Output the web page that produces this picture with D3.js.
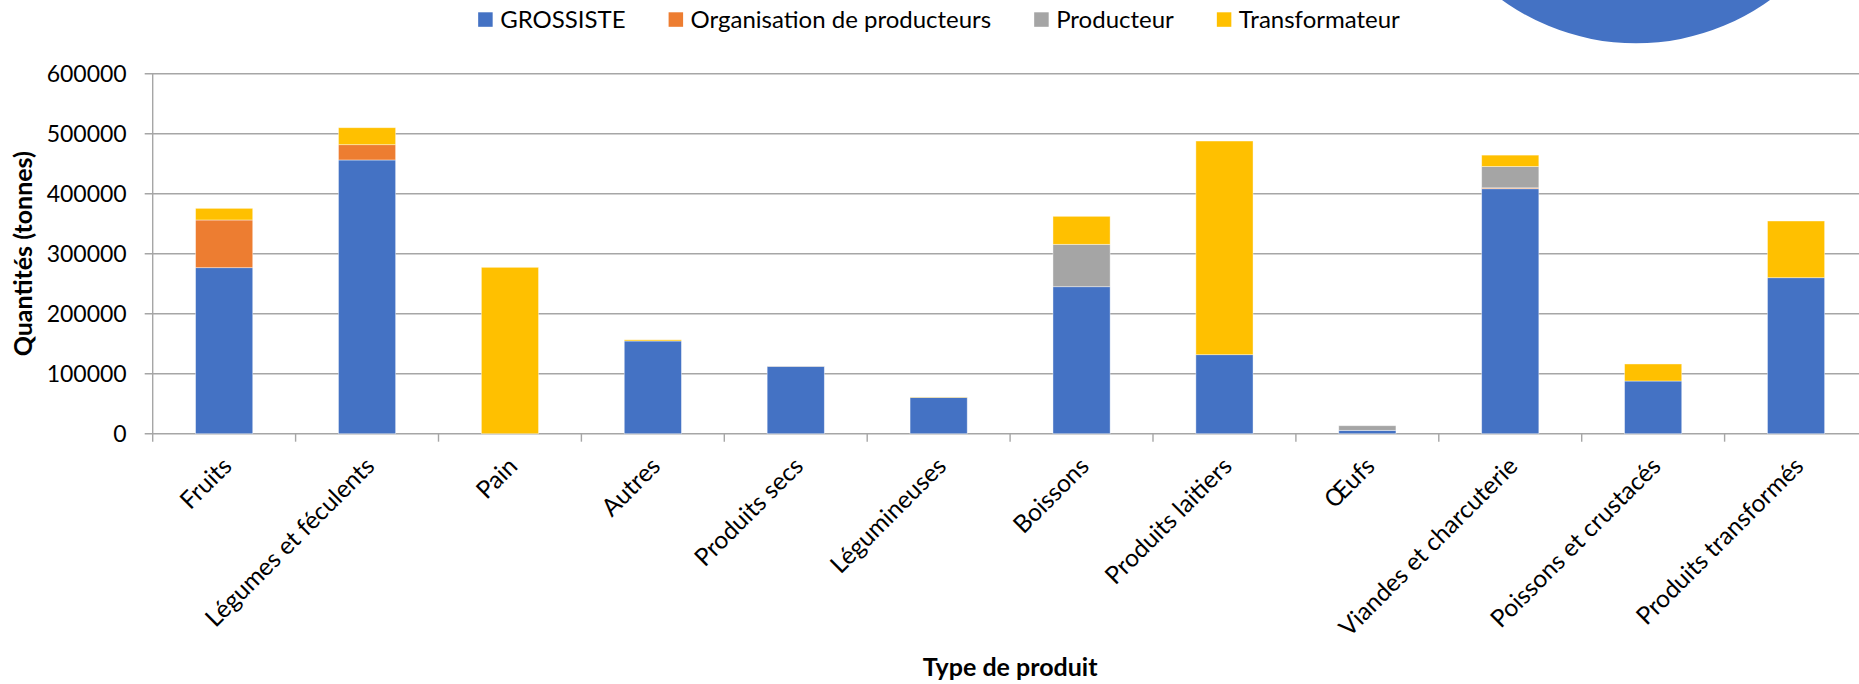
<!DOCTYPE html>
<html>
<head>
<meta charset="utf-8">
<script src="https://cdn.jsdelivr.net/npm/d3@7"></script>
<style>
  html, body { margin: 0; padding: 0; background: #fff; overflow: hidden; }
  svg { display: block; font-family: Lato, "Noto Sans", sans-serif; }
</style>
</head>
<body>
<div id="chart"></div>
<script>
// categories and series (tonnes)
const categories = ["Fruits", "Légumes et féculents", "Pain", "Autres", "Produits secs", "Légumineuses",
  "Boissons", "Produits laitiers", "Œufs", "Viandes et charcuterie", "Poissons et crustacés", "Produits transformés"];
const grossiste = [276700, 456200, 0, 154500, 112000, 60500, 245000, 131700, 5600, 408300, 87800, 260000];
const organisation = [79500, 25500, 0, 0, 0, 0, 0, 0, 0, 1500, 0, 0];
const producteur = [0, 0, 0, 0, 800, 0, 70600, 0, 7700, 35500, 0, 0];
const transformateur = [19400, 28300, 277300, 2000, 0, 700, 46700, 356100, 0, 19000, 28400, 94500];
const seriesNames = ["GROSSISTE", "Organisation de producteurs", "Producteur", "Transformateur"];
const seriesColors = ["#4472C4", "#ED7D31", "#A5A5A5", "#FFC000"];
const yTicks = [0, 100000, 200000, 300000, 400000, 500000, 600000];

const width = 1859, height = 684;
const margin = {left: 152.7, top: 73.7, bottom: 250.3};
const plotRight = 1867.5; // plot runs a little past the picture edge

const svg = d3.select("#chart").append("svg")
  .attr("width", width)
  .attr("height", height);

// stray blue disc at top right (part of another chart)
svg.append("circle")
  .attr("cx", 1636).attr("cy", -185.7).attr("r", 229)
  .attr("fill", "#4472C4");

const x = d3.scaleBand()
  .domain(categories)
  .range([margin.left, plotRight])
  .paddingInner(0.6)
  .paddingOuter(0.3);

const y = d3.scaleLinear()
  .domain([0, 600000])
  .range([height - margin.bottom, margin.top]);

// gridlines
svg.append("g")
  .selectAll("line")
  .data(yTicks)
  .join("line")
  .attr("x1", margin.left - 8)
  .attr("x2", width)
  .attr("y1", d => y(d))
  .attr("y2", d => y(d))
  .attr("stroke", "#a6a6a6")
  .attr("stroke-width", 1.4);

// vertical axis line
svg.append("line")
  .attr("x1", margin.left).attr("x2", margin.left)
  .attr("y1", y(600000)).attr("y2", y(0) + 8)
  .attr("stroke", "#a6a6a6")
  .attr("stroke-width", 1.4);

// y tick labels
svg.append("g")
  .selectAll("text")
  .data(yTicks)
  .join("text")
  .attr("x", margin.left - 26)
  .attr("y", d => y(d))
  .attr("dy", "0.35em")
  .attr("text-anchor", "end")
  .attr("font-size", 23)
  .attr("fill", "#000")
  .text(d => d);

// category boundary ticks
const step = x.step();
svg.append("g")
  .selectAll("line")
  .data(categories)
  .join("line")
  .attr("x1", d => x(d) + x.bandwidth() / 2 + step / 2)
  .attr("x2", d => x(d) + x.bandwidth() / 2 + step / 2)
  .attr("y1", y(0))
  .attr("y2", y(0) + 8)
  .attr("stroke", "#a6a6a6")
  .attr("stroke-width", 1.4);

// stacked bars
const rows = categories.map((c, i) => ({
  cat: c,
  s0: grossiste[i], s1: organisation[i], s2: producteur[i], s3: transformateur[i]
}));
const stack = d3.stack().keys(["s0", "s1", "s2", "s3"]);
const layers = stack(rows);

svg.append("g")
  .selectAll("g")
  .data(layers)
  .join("g")
  .attr("fill", (d, i) => seriesColors[i])
  .selectAll("rect")
  .data(d => d.filter(p => p[1] > p[0]))
  .join("rect")
  .attr("x", d => x(d.data.cat))
  .attr("width", x.bandwidth())
  .attr("y", d => y(d[1]))
  .attr("height", d => y(d[0]) - y(d[1]))
  .attr("stroke", "#ffffff")
  .attr("stroke-opacity", 0.5)
  .attr("stroke-width", 0.8);

// category labels, rotated
svg.append("g")
  .selectAll("text")
  .data(categories)
  .join("text")
  .attr("transform", d => "translate(" + (x(d) + x.bandwidth() / 2 + 9) + "," + (y(0) + 34) + ") rotate(-45)")
  .attr("text-anchor", "end")
  .attr("font-size", 24.5)
  .attr("fill", "#000")
  .text(d => d);

// axis titles
svg.append("text")
  .attr("transform", "translate(32," + ((y(0) + y(600000)) / 2) + ") rotate(-90)")
  .attr("text-anchor", "middle")
  .attr("font-size", 25)
  .attr("font-weight", "bold")
  .text("Quantités (tonnes)");

svg.append("text")
  .attr("x", (margin.left + plotRight) / 2)
  .attr("y", 676)
  .attr("text-anchor", "middle")
  .attr("font-size", 25)
  .attr("font-weight", "bold")
  .text("Type de produit");

// legend
const legend = svg.append("g");
const items = legend.selectAll("g")
  .data(seriesNames)
  .join("g");
items.append("rect")
  .attr("width", 14.5).attr("height", 14.5)
  .attr("y", 12.3)
  .attr("fill", (d, i) => seriesColors[i]);
items.append("text")
  .attr("x", 22)
  .attr("y", 27.5)
  .attr("font-size", 24)
  .attr("fill", "#000")
  .text(d => d);

let cursor = 0;
const offsets = [];
items.each(function () {
  offsets.push(cursor);
  const w = d3.select(this).select("text").node().getComputedTextLength();
  cursor += 22 + w + 43;
});
const legendWidth = cursor - 43;
const legendStart = 939 - legendWidth / 2;
items.attr("transform", (d, i) => "translate(" + (legendStart + offsets[i]) + ",0)");
</script>
</body>
</html>
